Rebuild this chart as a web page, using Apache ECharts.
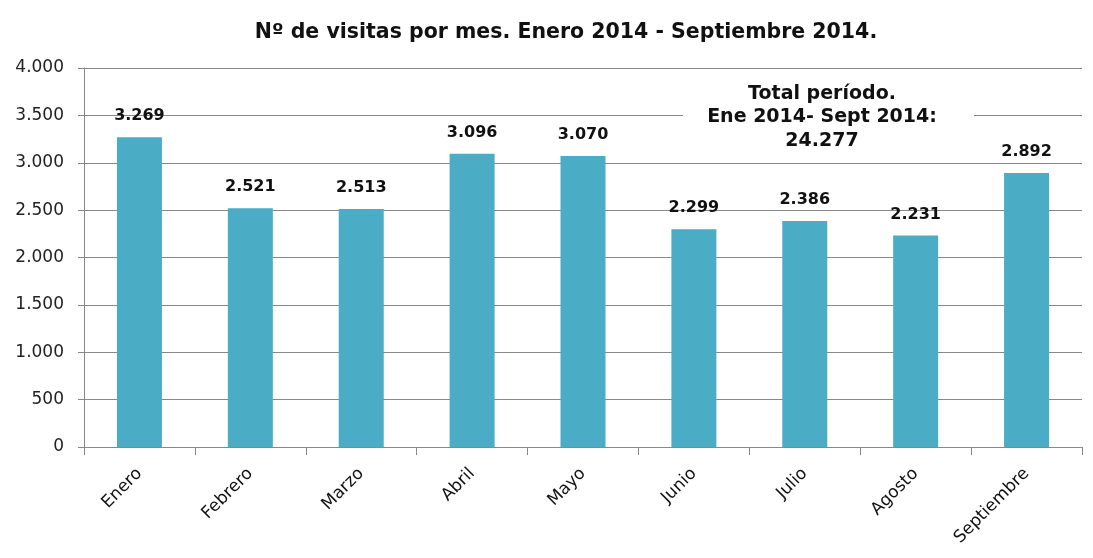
<!DOCTYPE html>
<html>
<head>
<meta charset="utf-8">
<script src="https://cdn.jsdelivr.net/npm/echarts@6/dist/echarts.min.js"></script>
<style>
  html, body { margin: 0; padding: 0; background: #fff; }
  #chart { width: 1093px; height: 558px; }
</style>
</head>
<body>
<div id="chart"></div>
<script>
// Monthly visits, January to September 2014
const months = ['Enero', 'Febrero', 'Marzo', 'Abril', 'Mayo', 'Junio', 'Julio', 'Agosto', 'Septiembre'];
const visits = [3269, 2521, 2513, 3096, 3070, 2299, 2386, 2231, 2892];
const yTicks = [0, 500, 1000, 1500, 2000, 2500, 3000, 3500, 4000];

const FONT = '"DejaVu Sans", "Liberation Sans", sans-serif';
const fmt = v => String(v).replace(/\B(?=(\d{3})+(?!\d))/g, '.');
const total = visits.reduce((a, b) => a + b, 0);

const chart = echarts.init(document.getElementById('chart'), null, { renderer: 'canvas' });
chart.setOption({
  animation: false,
  backgroundColor: '#fff',
  title: {
    text: 'Nº de visitas por mes. Enero 2014 - Septiembre 2014.',
    left: 561, top: 17, textAlign: 'center',
    textStyle: { fontFamily: FONT, fontSize: 20.5, fontWeight: 'bold', color: '#111' }
  },
  grid: { left: 84, right: 11, top: 68, bottom: 111, containLabel: false },
  xAxis: {
    type: 'category',
    data: months,
    axisLine: { show: false },
    axisTick: { show: true, length: 8, lineStyle: { color: '#888' } },
    axisLabel: { rotate: 45, margin: 24, fontFamily: FONT, fontSize: 17, color: '#111' }
  },
  yAxis: {
    type: 'value',
    min: yTicks[0], max: yTicks[yTicks.length - 1], interval: 500,
    axisLine: { show: true, lineStyle: { color: '#888' } },
    axisTick: { show: true, length: 6, lineStyle: { color: '#888' } },
    splitLine: { show: true, lineStyle: { color: '#888', width: 1 } },
    axisLabel: { margin: 20, fontFamily: FONT, fontSize: 17, color: '#222', formatter: fmt }
  },
  series: [{
    type: 'bar',
    data: visits,
    barWidth: 45,
    itemStyle: { color: '#4BACC6' },
    label: {
      show: true, position: 'top', distance: 13,
      fontFamily: FONT, fontSize: 16, fontWeight: 'bold', color: '#111',
      formatter: p => fmt(p.value)
    }
  }],
  graphic: [
    {
      // white panel behind the period total
      type: 'rect', z: 100, left: 683, top: 82,
      shape: { width: 291, height: 72 },
      style: { fill: '#fff' }
    },
    {
      type: 'text', z: 101, x: 822, y: 82,
      style: {
        text: 'Total período.\nEne 2014- Sept 2014:\n' + fmt(total),
        fontFamily: FONT, fontSize: 19, fontWeight: 'bold', fill: '#111',
        align: 'center', verticalAlign: 'top', lineHeight: 23.5
      }
    }
  ]
});
</script>
</body>
</html>
